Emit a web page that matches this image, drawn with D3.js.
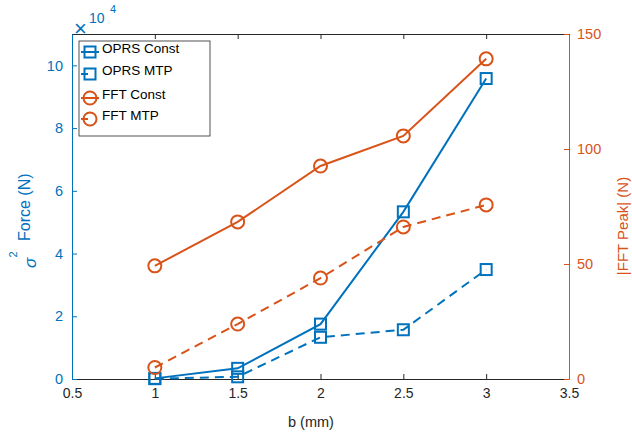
<!DOCTYPE html>
<html><head><meta charset="utf-8">
<script src="https://cdn.jsdelivr.net/npm/d3@7"></script>
<style>body{margin:0;background:#fff;} text{font-family:"Liberation Sans",Arial,sans-serif;}</style>
</head><body><svg id="c" width="632" height="436"></svg>
<script>
const bValues = [1, 1.5, 2, 2.5, 3];
const oprsConst = [200, 3400, 17500, 53300, 95800];
const oprsMTP = [100, 700, 13300, 15700, 34900];
const fftConst = [49.2, 68.3, 92.6, 105.7, 139.2];
const fftMTP = [5.0, 23.9, 43.9, 66.1, 75.7];
const xTicks = [0.5, 1, 1.5, 2, 2.5, 3, 3.5];
const leftTicks = [0, 2, 4, 6, 8, 10];
const rightTicks = [0, 50, 100, 150];

const BLUE = "#0072BD", ORANGE = "#D95319", GRAY = "#262626";
const L = 72, R = 569, T = 34, B = 379;
const svg = d3.select("#c");
const x = d3.scaleLinear().domain([0.5, 3.5]).range([L, R]);
const yL = d3.scaleLinear().domain([0, 110000]).range([B, T]);
const yR = d3.scaleLinear().domain([0, 150]).range([B, T]);

// axes
const gx = svg.append("g").attr("transform", `translate(0,${B})`)
  .call(d3.axisBottom(x).tickValues(xTicks).tickFormat(d3.format("")).tickSizeInner(-5).tickSizeOuter(0).tickPadding(9));
gx.select(".domain").attr("stroke", GRAY);
gx.selectAll(".tick line").attr("stroke", GRAY);
gx.selectAll("text").attr("fill", GRAY).attr("font-size", 14);
const gxt = svg.append("g").attr("transform", `translate(0,${T})`)
  .call(d3.axisTop(x).tickValues(xTicks).tickFormat("").tickSizeInner(-5).tickSizeOuter(0));
gxt.select(".domain").attr("stroke", GRAY);
gxt.selectAll(".tick line").attr("stroke", GRAY);

const gl = svg.append("g").attr("transform", `translate(${L},0)`)
  .call(d3.axisLeft(yL).tickValues(leftTicks.map(d => d * 1e4)).tickFormat(d => d / 1e4).tickSizeInner(-5).tickSizeOuter(0).tickPadding(9));
gl.select(".domain").attr("stroke", BLUE);
gl.selectAll(".tick line").attr("stroke", BLUE);
gl.selectAll("text").attr("fill", BLUE).attr("font-size", 14.5);

const gr = svg.append("g").attr("transform", `translate(${R},0)`)
  .call(d3.axisRight(yR).tickValues(rightTicks).tickSizeInner(-5).tickSizeOuter(0).tickPadding(8));
gr.select(".domain").attr("stroke", ORANGE);
gr.selectAll(".tick line").attr("stroke", ORANGE);
gr.selectAll("text").attr("fill", ORANGE).attr("font-size", 14.5);

// x10^4 exponent label
svg.append("text").attr("x", 74).attr("y", 36).attr("fill", BLUE).attr("font-size", 22).text("×");
svg.append("text").attr("x", 89).attr("y", 23).attr("fill", BLUE).attr("font-size", 14).text("10");
svg.append("text").attr("x", 110).attr("y", 13).attr("fill", BLUE).attr("font-size", 11).text("4");

// axis labels
svg.append("text").attr("x", 311).attr("y", 427).attr("text-anchor", "middle")
  .attr("fill", GRAY).attr("font-size", 14.5).text("b (mm)");
svg.append("text").attr("transform", "translate(36,268) rotate(-90)")
  .attr("fill", BLUE).attr("font-size", 17).attr("font-style", "italic").text("σ");
svg.append("text").attr("transform", "translate(17,257.5) rotate(-90)")
  .attr("fill", BLUE).attr("font-size", 11).text("2");
svg.append("text").attr("transform", "translate(30,241) rotate(-90)")
  .attr("fill", BLUE).attr("font-size", 16).text("Force (N)");
svg.append("text").attr("transform", `translate(628,226) rotate(-90)`)
  .attr("text-anchor", "middle").attr("fill", ORANGE).attr("font-size", 15).text("|FFT Peak| (N)");

// series
const series = [
  {name: "OPRS Const", vals: oprsConst, y: yL, color: BLUE, dash: null, marker: "square"},
  {name: "OPRS MTP", vals: oprsMTP, y: yL, color: BLUE, dash: "9,6", marker: "square"},
  {name: "FFT Const", vals: fftConst, y: yR, color: ORANGE, dash: null, marker: "circle"},
  {name: "FFT MTP", vals: fftMTP, y: yR, color: ORANGE, dash: "9,6", marker: "circle"}
];
function drawMarker(g, type, cx, cy, color) {
  if (type === "square") {
    g.append("rect").attr("x", cx - 5.5).attr("y", cy - 5.5).attr("width", 11).attr("height", 11)
      .attr("fill", "none").attr("stroke", color).attr("stroke-width", 2);
  } else {
    g.append("circle").attr("cx", cx).attr("cy", cy).attr("r", 6.5)
      .attr("fill", "none").attr("stroke", color).attr("stroke-width", 2);
  }
}
series.forEach(s => {
  const line = d3.line().x((d, i) => x(bValues[i])).y(d => s.y(d));
  svg.append("path").datum(s.vals).attr("d", line).attr("fill", "none")
    .attr("stroke", s.color).attr("stroke-width", 2).attr("stroke-dasharray", s.dash);
  const g = svg.append("g");
  s.vals.forEach((v, i) => drawMarker(g, s.marker, x(bValues[i]), s.y(v), s.color));
});

// legend
const lg = svg.append("g");
lg.append("rect").attr("x", 79).attr("y", 41).attr("width", 131).attr("height", 95)
  .attr("fill", "#fff").attr("stroke", GRAY).attr("stroke-width", 0.8);
const rowsY = [52, 74, 98, 119];
series.forEach((s, i) => {
  const yy = rowsY[i];
  if (s.dash) {
    lg.append("line").attr("x1", 81).attr("x2", 88).attr("y1", yy).attr("y2", yy).attr("stroke", s.color).attr("stroke-width", 2);
  } else {
    lg.append("line").attr("x1", 81).attr("x2", 99).attr("y1", yy).attr("y2", yy).attr("stroke", s.color).attr("stroke-width", 2);
  }
  drawMarker(lg, s.marker, 90, yy, s.color);
  lg.append("text").attr("x", 102).attr("y", yy + 1).attr("font-size", 13.5).attr("fill", "#000").text(s.name);
});
</script></body></html>
